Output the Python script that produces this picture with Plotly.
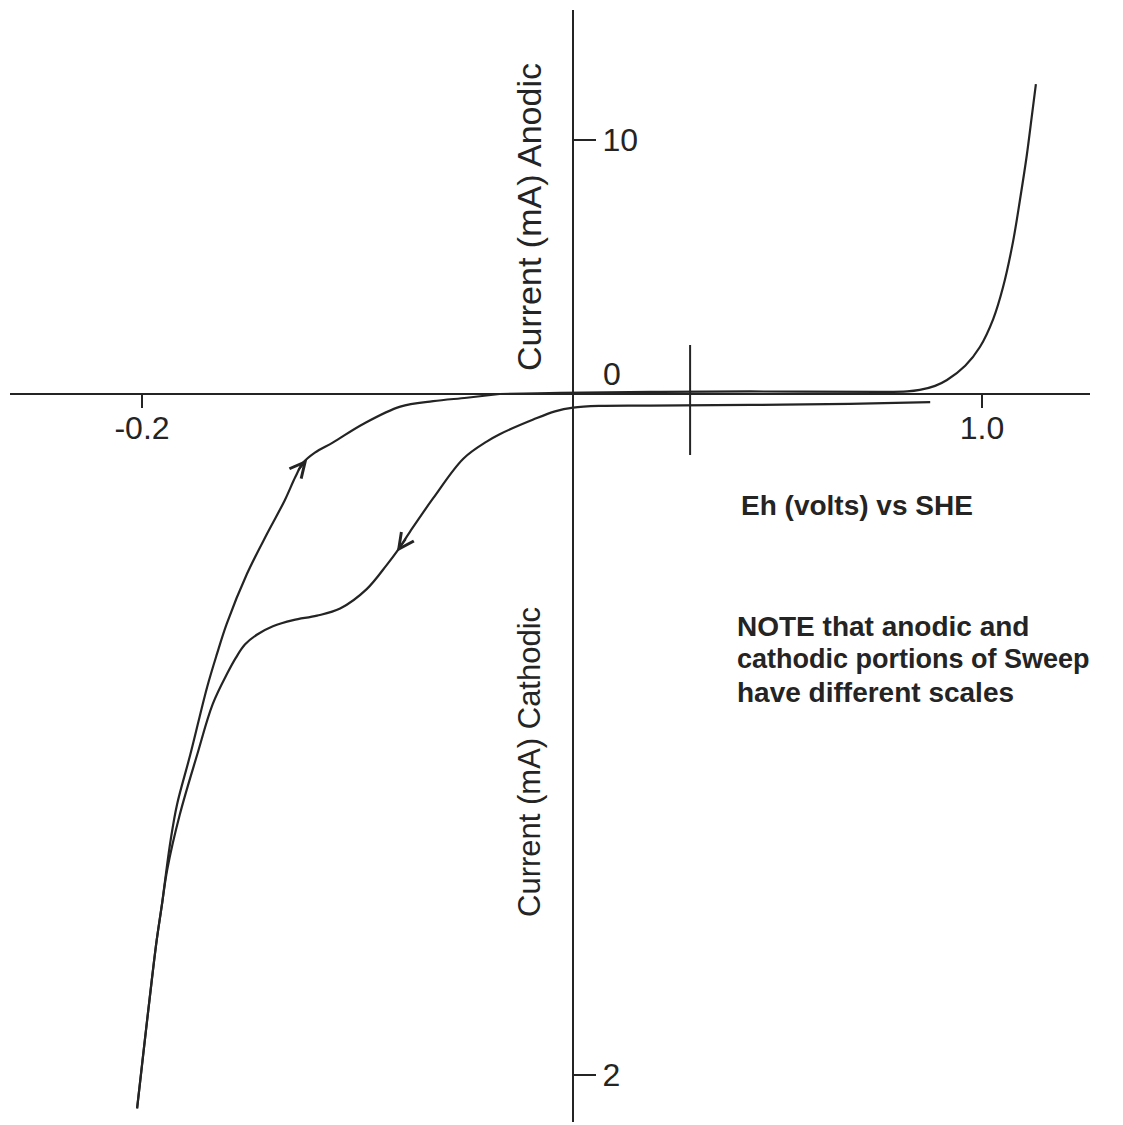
import plotly.graph_objects as go

# ---------------- data ----------------
# Potential in volts vs SHE; currents in mA.
# Cathodic-going sweep (cathodic current plotted downward on the cathodic scale)
fwd_E = [0.926, 0.811, 0.669, 0.526, 0.454, 0.416, 0.390, 0.359, 0.311, 0.293, 0.259,
         0.216, 0.183, 0.164, 0.150, 0.121, 0.083, 0.050, 0.016, -0.013, -0.036,
         -0.053, -0.066, -0.077, -0.099, -0.121, -0.146, -0.164, -0.171, -0.179,
         -0.186, -0.193, -0.200, -0.207]
fwd_I = [0.024, 0.029, 0.032, 0.034, 0.035, 0.040, 0.051, 0.075, 0.118, 0.139, 0.190,
         0.306, 0.404, 0.463, 0.501, 0.573, 0.630, 0.651, 0.664, 0.682, 0.707,
         0.736, 0.775, 0.816, 0.911, 1.058, 1.235, 1.397, 1.492, 1.604,
         1.721, 1.845, 1.971, 2.098]

# Return sweep, cathodic portion
ret_cat_E = [-0.207, -0.200, -0.193, -0.186, -0.179, -0.171, -0.166, -0.159, -0.150,
             -0.131, -0.107, -0.093, -0.079, -0.050, -0.021, 0.004, 0.019, 0.030,
             0.047, 0.073, 0.116, 0.169, 0.216, 0.264, 0.311]
ret_cat_I = [2.098, 1.971, 1.845, 1.721, 1.604, 1.492, 1.412, 1.309, 1.206,
             1.059, 0.861, 0.764, 0.675, 0.528, 0.409, 0.312, 0.244, 0.202,
             0.172, 0.142, 0.088, 0.037, 0.021, 0.011, 0.0]

# Return sweep, anodic portion
ret_an_E = [0.311, 0.397, 0.526, 0.669, 0.854, 0.893, 0.911, 0.933, 0.950, 0.976,
            0.997, 1.016, 1.030, 1.044, 1.054, 1.064, 1.071, 1.077]
ret_an_I = [0.0, 0.05, 0.08, 0.10, 0.08, 0.10, 0.16, 0.32, 0.55, 1.11,
            1.85, 2.95, 4.20, 5.95, 7.60, 9.40, 10.90, 12.2]

x_tick_vals = [-0.2, 1.0]
x_tick_text = ["-0.2", "1.0"]
anodic_ticks = [10]
cathodic_ticks = [2]
marker_E = 0.583  # vertical marker on the potential axis

# ---------------- styling / layout ----------------
W, H = 1123, 1125
OFF = 8  # page body margin in the browser
INK = "#242424"
FONT = "Liberation Sans, Arial, Helvetica, sans-serif"

x_left_px, x_right_px = 10, 1090
y_top_px, y_bot_px = 10, 1122
axis_y_px = 394
axis_x_px = 573
px_per_V = 700.0
E_at_px = lambda p: (p - 282) / px_per_V
an_px_per_mA = 25.4
cat_px_per_mA = 340.5

fx = lambda p: (p - OFF) / W          # reference pixel -> paper x
fy = lambda p: 1 - (p - OFF) / H      # reference pixel -> paper y

fig = go.Figure()

line_style = dict(color=INK, width=2.2, shape="spline", smoothing=1.0)

fig.add_trace(go.Scatter(x=fwd_E, y=fwd_I, mode="lines", line=line_style,
                         yaxis="y2", showlegend=False, hoverinfo="skip"))
fig.add_trace(go.Scatter(x=ret_cat_E, y=ret_cat_I, mode="lines", line=line_style,
                         yaxis="y2", showlegend=False, hoverinfo="skip"))
fig.add_trace(go.Scatter(x=ret_an_E, y=ret_an_I, mode="lines", line=line_style,
                         yaxis="y", showlegend=False, hoverinfo="skip"))

y_dom = [fy(y_bot_px), fy(y_top_px)]
an_range = [(axis_y_px - y_bot_px) / an_px_per_mA, (axis_y_px - y_top_px) / an_px_per_mA]
cat_range = [(y_bot_px - axis_y_px) / cat_px_per_mA, (y_top_px - axis_y_px) / cat_px_per_mA]

fig.update_layout(
    width=W, height=H,
    margin=dict(l=0, r=0, t=0, b=0, autoexpand=False),
    paper_bgcolor="white", plot_bgcolor="white",
    font=dict(family=FONT, color=INK),
    xaxis=dict(
        domain=[fx(x_left_px), fx(x_right_px)],
        range=[E_at_px(x_left_px), E_at_px(x_right_px)],
        anchor="free", position=fy(axis_y_px),
        showline=True, linecolor=INK, linewidth=2,
        showgrid=False, zeroline=False,
        ticks="outside", ticklen=13, tickwidth=2, tickcolor=INK,
        tickvals=x_tick_vals, ticktext=x_tick_text,
        ticklabelstandoff=-7,
        tickfont=dict(size=32, family=FONT, color=INK),
    ),
    yaxis=dict(
        domain=y_dom, range=an_range,
        anchor="free", position=fx(axis_x_px), side="right",
        showline=True, linecolor=INK, linewidth=2,
        showgrid=False, zeroline=False,
        ticks="outside", ticklen=22, tickwidth=2, tickcolor=INK,
        tickvals=anodic_ticks, ticktext=[str(v) for v in anodic_ticks],
        tickfont=dict(size=32, family=FONT, color=INK),
    ),
    yaxis2=dict(
        domain=y_dom, range=cat_range,
        anchor="free", position=fx(axis_x_px), side="right", overlaying="y",
        showline=False, showgrid=False, zeroline=False,
        ticks="outside", ticklen=22, tickwidth=2, tickcolor=INK,
        tickvals=cathodic_ticks, ticktext=[str(v) for v in cathodic_ticks],
        tickfont=dict(size=32, family=FONT, color=INK),
    ),
)

# vertical marker across the potential axis
fig.add_shape(type="line", xref="x", yref="paper",
              x0=marker_E, x1=marker_E, y0=fy(455), y1=fy(345),
              line=dict(color=INK, width=2))

# sweep-direction arrows
fig.add_annotation(x=0.164, y=0.463, xref="x", yref="y2", ax=10, ay=-14,
                   showarrow=True, arrowhead=5, arrowsize=1.5, arrowwidth=2,
                   arrowcolor=INK, text="", standoff=0)
fig.add_annotation(x=0.036, y=0.192, xref="x", yref="y2", ax=-10, ay=12,
                   showarrow=True, arrowhead=5, arrowsize=1.5, arrowwidth=2,
                   arrowcolor=INK, text="", standoff=0)

def ann(text, xp, yp, size, bold=False, angle=0, xanchor="center", yanchor="middle"):
    fig.add_annotation(text=f"<b>{text}</b>" if bold else text,
                       x=fx(xp), y=fy(yp), xref="paper", yref="paper",
                       showarrow=False, textangle=angle,
                       xanchor=xanchor, yanchor=yanchor,
                       font=dict(size=size, family=FONT, color=INK))

ann("0", 612, 374, 32)
ann("Current (mA) Anodic", 529, 217, 34, angle=-90)
ann("Current (mA) Cathodic", 529, 762, 31, angle=-90)
ann("Eh (volts) vs SHE", 857, 505, 28, bold=True)
ann("NOTE that anodic and", 735, 626, 28, bold=True, xanchor="left")
ann("cathodic portions of Sweep", 735, 659, 27, bold=True, xanchor="left")
ann("have different scales", 735, 692, 28, bold=True, xanchor="left")

fig.write_html("out.html")
